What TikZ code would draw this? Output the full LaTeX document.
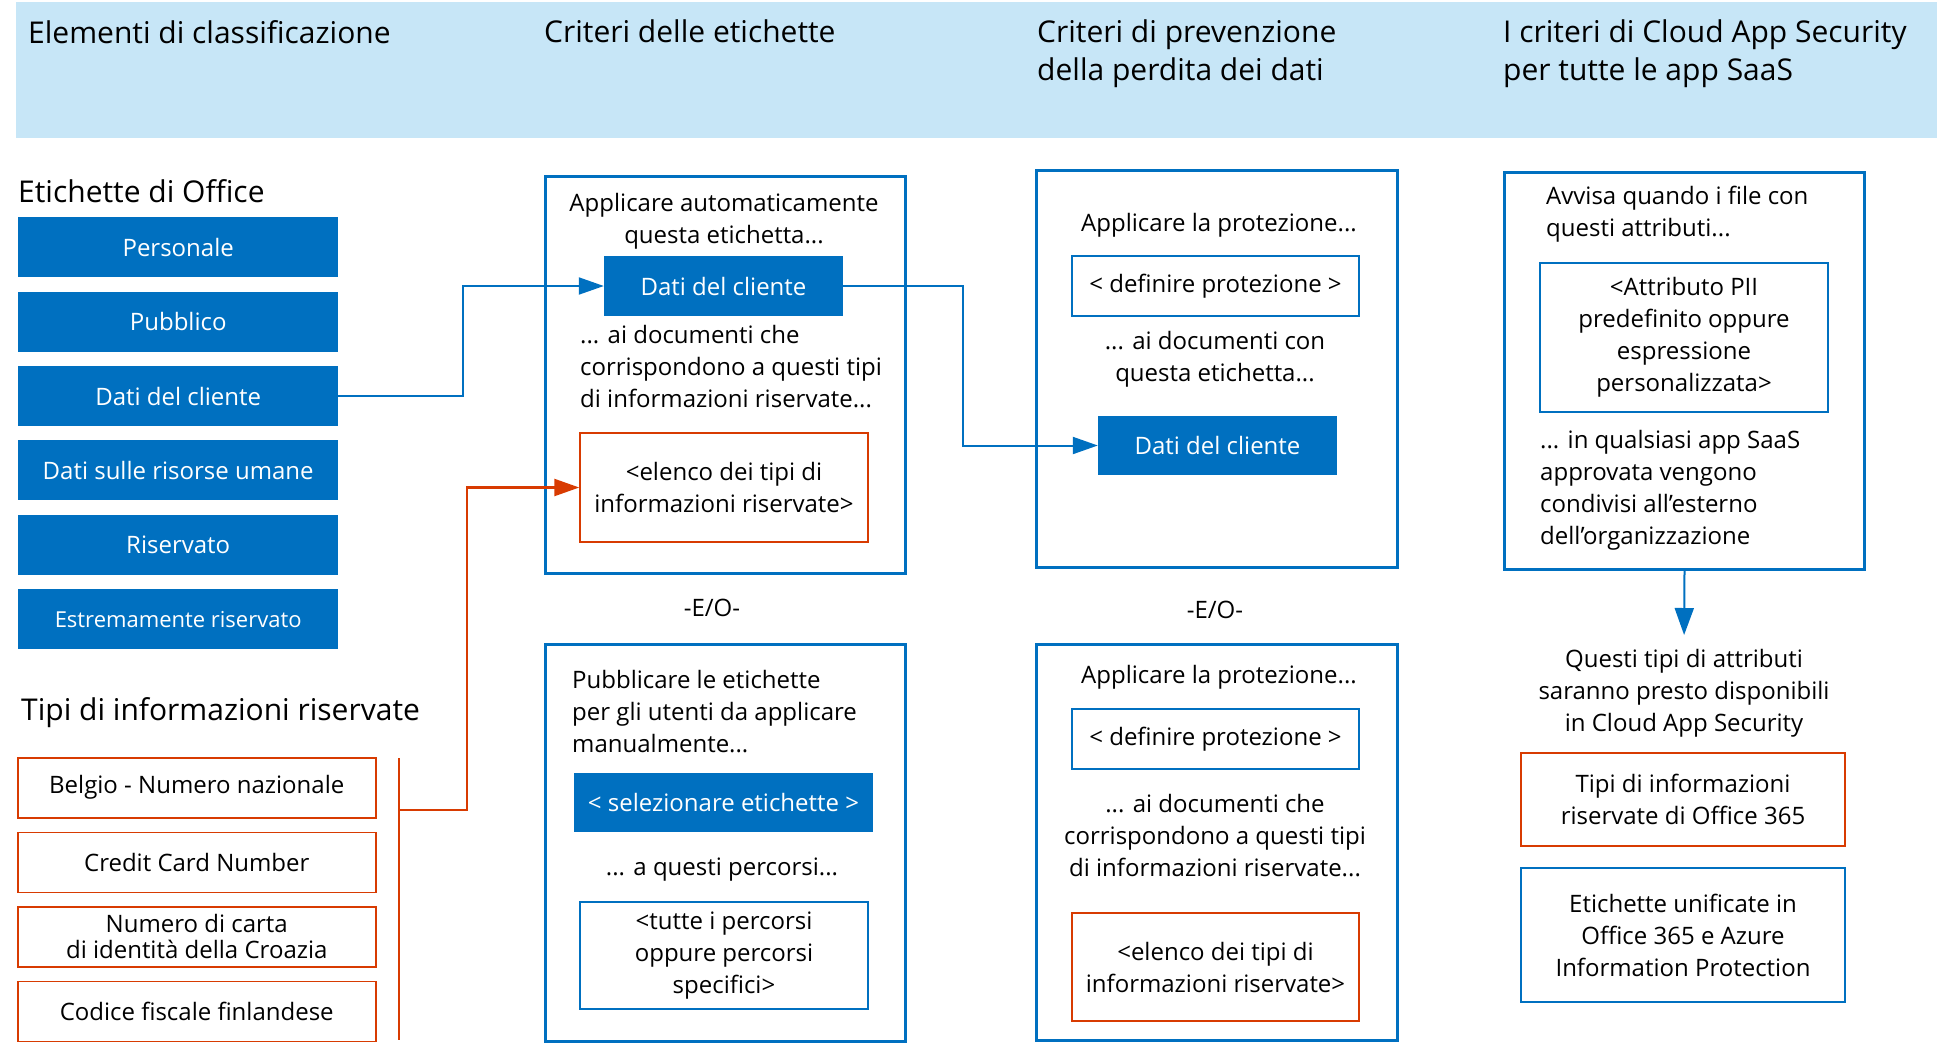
\documentclass[tikz,border=0pt]{standalone}
\usepackage{fontspec}
\setmainfont{Open Sans}
\usetikzlibrary{positioning}
\usetikzlibrary{arrows.meta}

\definecolor{msblue}{RGB}{0,112,192}
\definecolor{msorange}{RGB}{216,59,1}
\definecolor{hdrblue}{RGB}{199,230,247}
\newcommand{\txtfont}{\fontsize{24}{32}\selectfont}
\newcommand{\hdfont}{\fontsize{30}{38}\selectfont}
\newcommand{\smfont}{\fontsize{22}{27}\selectfont}

\tikzset{
  head/.style={anchor=north west, align=left, font=\hdfont},
  lbl/.style={fill=msblue, text=white, minimum width=320pt, minimum height=60pt},
  sit/.style={draw=msorange, line width=1.5pt, minimum width=358pt, minimum height=60pt},
  policy/.style={draw=msblue, line width=3pt, minimum width=360pt, minimum height=397pt, anchor=north west},
  thinbox/.style={draw=msblue, line width=1.5pt, align=center},
  hotbox/.style={draw=msorange, line width=1.5pt, align=center},
  conn/.style={msblue, line width=2pt, -{Triangle[length=25pt,width=17pt]}},
  oconn/.style={msorange, line width=2.5pt, -{Triangle[length=25pt,width=17pt]}},
}

\begin{document}
\begin{tikzpicture}[x=1pt, y=-1pt, font=\txtfont, every node/.append style={inner sep=0pt}]
  \useasboundingbox (0,0) rectangle (1937,1042);
  \fill[hdrblue] (16,2) rectangle (1937,138);

  \node[head] (h1) at (28,20) {Elementi di classificazione};
  \node[head] (h2) at (544,20) {Criteri delle etichette};
  \node[head] (h3) at (1037,20) {Criteri di prevenzione\\della perdita dei dati};
  \node[head] (h4) at (1503,20) {I criteri di Cloud App Security\\per tutte le app SaaS};

  % classification
  \node[head] (office) at (18,179) {Etichette di Office};
  \node[lbl, anchor=north west] (pers) at (18,217) {Personale};
  \node[lbl, below=14pt of pers] (pubb) {Pubblico};
  \node[lbl, below=14pt of pubb] (dati) {Dati del cliente};
  \node[lbl, below=14pt of dati] (hr) {Dati sulle risorse umane};
  \node[lbl, below=14pt of hr] (ris) {Riservato};
  \node[lbl, below=14pt of ris, font=\smfont] (estr) {Estremamente riservato};

  \node[head] (sittitle) at (21,697) {Tipi di informazioni riservate};
  \node[sit, anchor=north west] (bel) at (17,757) {Belgio - Numero nazionale};
  \node[sit, below=13pt of bel] (ccn) {Credit Card Number};
  \node[sit, below=13pt of ccn, align=center, font=\fontsize{24}{26}\selectfont] (cro) {Numero di carta\\di identità della Croazia};
  \node[sit, below=13pt of cro] (fin) {Codice fiscale finlandese};

  \coordinate (brkT) at (399,758);
  \coordinate (brkB) at (399,1040);
  \coordinate (brk) at (399,810);
  \draw[msorange, line width=2.5pt] (brkT) -- (brkB);

  % label policies
  \node[policy] (lab1) at (544,175) {};
  \node[anchor=north, align=center] (autotxt) at (724,193) {Applicare automaticamente\\questa etichetta...};
  \node[lbl, minimum width=239pt] (auto) at (723.5,286) {Dati del cliente};
  \node[anchor=north west, align=left] (autodoc) at (580,325) {... ai documenti che\\corrispondono a questi tipi\\di informazioni riservate...};
  \node[hotbox, minimum width=288pt, minimum height=109pt] (elenco1) at (724,487.5) {<elenco dei tipi di\\informazioni riservate>};

  \node[anchor=base] (eo1) at (712,616) {-E/O-};

  \node[policy] (lab2) at (544,643) {};
  \node[anchor=north west, align=left] (pubtxt) at (572,670) {Pubblicare le etichette\\per gli utenti da applicare\\manualmente...};
  \node[lbl, minimum width=299pt, minimum height=59pt] (sel) at (723.5,802.5) {< selezionare etichette >};
  \node[anchor=base] (perc) at (722,875) {... a questi percorsi...};
  \node[thinbox, minimum width=288pt, minimum height=107pt] (tutte) at (724,955.5) {<tutte i percorsi\\oppure percorsi\\specifici>};

  % dlp policies
  \node[policy, minimum width=361pt] (dlp1) at (1035,169) {};
  \node[anchor=base] (prot1) at (1219,231) {Applicare la protezione...};
  \node[thinbox, minimum width=287pt, minimum height=60pt] (def1) at (1215.5,286) {< definire protezione >};
  \node[anchor=north, align=center] (doc1) at (1215,331) {... ai documenti con\\questa etichetta...};
  \node[lbl, minimum width=239pt, minimum height=59pt] (dlp) at (1217.5,445.5) {Dati del cliente};

  \node[anchor=base] (eo2) at (1215,618) {-E/O-};

  \node[policy, minimum width=361pt, minimum height=396pt] (dlp2) at (1035,643) {};
  \node[anchor=base] (prot2) at (1219,683) {Applicare la protezione...};
  \node[thinbox, minimum width=287pt, minimum height=60pt] (def2) at (1215.5,739) {< definire protezione >};
  \node[anchor=north, align=center] (doc2) at (1215,794) {... ai documenti che\\corrispondono a questi tipi\\di informazioni riservate...};
  \node[hotbox, minimum width=287pt, minimum height=108pt] (elenco2) at (1215.5,967) {<elenco dei tipi di\\informazioni riservate>};

  % cloud app security
  \node[policy] (cas) at (1503,171) {};
  \node[anchor=north west, align=left] (avv) at (1546,186) {Avvisa quando i file con\\questi attributi...};
  \node[thinbox, minimum width=288pt, minimum height=149pt] (pii) at (1684,337.5) {<Attributo PII\\predefinito oppure\\espressione\\personalizzata>};
  \node[anchor=north west, align=left] (saas) at (1540,430) {... in qualsiasi app SaaS\\approvata vengono\\condivisi all’esterno\\dell’organizzazione};
  \node[anchor=north, align=center] (soon) at (1684,649) {Questi tipi di attributi\\saranno presto disponibili\\in Cloud App Security};
  \node[hotbox, minimum width=324pt, minimum height=93pt] (o365) at (1683,799.5) {Tipi di informazioni\\riservate di Office 365};
  \node[thinbox, minimum width=324pt, minimum height=134pt] (aip) at (1683,935) {Etichette unificate in\\Office 365 e Azure\\Information Protection};

  \draw[conn] (dati.east) -- ++(125,0) |- (auto.west);
  \draw[conn] (auto.east) -- ++(120,0) |- (dlp.west);
  \draw[oconn] (brk) -- ++(68,0) |- (elenco1.west);
  \draw[conn, -{Triangle[length=27pt,width=19pt]}, shorten >=14pt] (cas.south) -- (soon.north);

\end{tikzpicture}
\end{document}
